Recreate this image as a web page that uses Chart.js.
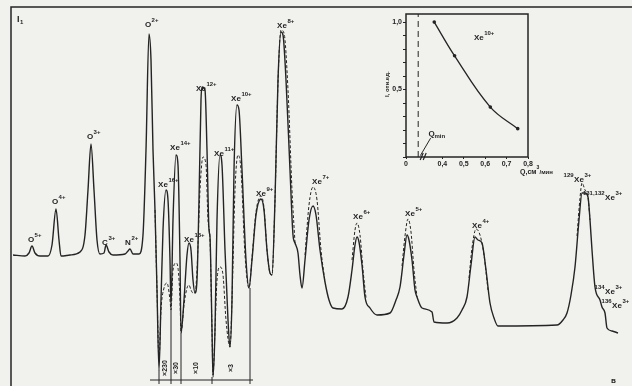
<!DOCTYPE html>
<html lang="ru">
<head>
  <meta charset="UTF-8" />
  <title>Масс-спектр ионов Xe</title>
  <script src="https://cdn.jsdelivr.net/npm/chart.js"></script>
  <style>
    html, body { margin: 0; padding: 0; background: #f1f1ee; }
    #wrap { position: relative; width: 632px; height: 386px; overflow: hidden; }
    #spectrum { position: absolute; left: 0; top: 0; }
    #inset { position: absolute; left: 380px; top: 0; }
  </style>
</head>
<body>
  <div id="wrap">
    <canvas id="spectrum" width="632" height="386"></canvas>
    <canvas id="inset" width="190" height="180"></canvas>
  </div>

  <script>
    // main trace (channel, intensity)
    const solidX = [13, 25, 29, 32, 35, 40, 48, 52, 56, 59, 61, 70, 80, 85, 88, 91, 94, 97, 100, 104,
      106, 109, 113, 125, 128, 130, 133, 139, 143, 146, 149, 151, 153, 155, 157, 159, 161, 163, 166, 168,
      170, 171, 173, 176, 178, 180, 181, 184, 187, 189, 191, 193, 195, 197, 199, 201, 202, 205, 207, 209,
      210, 212, 213, 215, 217, 220, 222, 225, 228, 230, 232, 234, 237, 239, 242, 246, 249, 252, 256, 261,
      264, 267, 270, 272, 275, 278, 281, 283, 286, 290, 293, 295, 298, 300, 302, 305, 309, 313, 316, 320,
      325, 329, 333, 342, 348, 352, 355, 357, 359, 362, 365, 370, 377, 390, 396, 400, 404, 407, 409, 412,
      415, 417, 422, 432, 434, 447, 457, 462, 467, 471, 475, 478, 482, 486, 490, 494, 498, 557, 563, 567,
      571, 575, 579, 582, 585, 588, 590, 592, 595, 600, 602, 605, 607, 612, 618];
    const solidY = [131, 130, 133, 140, 133, 130, 130, 141, 177, 146, 130, 131, 134, 151, 196, 242, 196, 146, 132, 133,
      141, 134, 131, 132, 135, 137, 132, 132, 151, 236, 352, 326, 236, 176, 96, 16, 86, 156, 196, 186,
      126, 79, 166, 231, 221, 126, 53, 86, 131, 143, 136, 106, 93, 106, 186, 286, 299, 296, 236, 156,
      149, 56, 9, 56, 166, 231, 221, 136, 66, 39, 86, 216, 281, 276, 216, 126, 98, 126, 171, 187,
      176, 136, 113, 111, 186, 306, 354, 351, 306, 216, 151, 143, 133, 111, 98, 126, 166, 180, 171, 136,
      104, 86, 78, 77, 89, 116, 141, 149, 144, 121, 89, 78, 71, 73, 86, 99, 131, 151, 146, 126,
      96, 89, 78, 74, 64, 63, 68, 76, 89, 121, 149, 146, 143, 116, 83, 68, 60, 61, 66, 73,
      91, 119, 166, 193, 193, 189, 166, 136, 99, 86, 79, 73, 58, 55, 53];

    // second trace (dashed), null = no deviation from the main trace
    const dashX = [155, 157, 159, 161, 164, 167, 170, 171, 173, 176, 178, 180, 181, 184, 187, 189, 191, 193, 195, 197,
      200, 203, 206, 208, 210, 212, 213, 215, 217, 220, 223, 226, 230, 232, 235, 238, 241, 245, 249, 252,
      256, 261, 264, 267, 270, 272, 275, 278, 281, 284, 288, 292, 295, 300,
      305, 309, 313, 317, 321, 325, 330,
      352, 355, 357, 360, 363, 366, 370,
      402, 405, 408, 411, 414, 417, 420,
      469, 472, 476, 480, 484, 488, 492,
      577, 580, 582, 585, 588, 590];
    const dashY = [176, 96, 26, 76, 98, 103, 86, 76, 116, 123, 118, 86, 53, 81, 98, 101, 96, 93, 93, 116,
      196, 229, 221, 166, 146, 56, 11, 56, 106, 119, 111, 66, 39, 86, 196, 231, 216, 131, 98, 128,
      174, 190, 178, 136, 113, 111, 186, 304, 356, 353, 296, 196, 143, null,
      131, 181, 199, 186, 136, 104, null,
      126, 156, 163, 151, 116, 88, null,
      120, 150, 167, 154, 116, 89, null,
      108, 138, 157, 151, 131, 96, null,
      150, 188, 203, 196, 189, 166];

    // sensitivity switch points and their gains
    const switchX = [159, 171, 181, 212, 250];
    const switchTop = [16, 79, 53, 9, 98];
    const gainLabel = ['×230', '×30', '×10', '×3'];

    // peak assignments
    const ionPre = ['', '', '', '', '', '', '', '', '', '', '', '', '', '', '', '', '', '', '129', '131,132', '134', '136'];
    const ionBase = ['O', 'O', 'O', 'C', 'N', 'O', 'Xe', 'Xe', 'Xe', 'Xe', 'Xe', 'Xe', 'Xe', 'Xe', 'Xe', 'Xe', 'Xe', 'Xe', 'Xe', 'Xe', 'Xe', 'Xe'];
    const ionSup = ['5+', '4+', '3+', '3+', '2+', '2+', '16+', '14+', '13+', '12+', '11+', '10+', '9+', '8+', '7+', '6+', '5+', '4+', '3+', '3+', '3+', '3+'];
    const ionX = [31, 55, 90, 105, 128, 148, 163, 175, 189, 201, 219, 236, 261, 282, 317, 358, 410, 477, 579, 610, 610, 617];
    const ionY = [144, 182, 247, 141, 141, 359, 199, 236, 144, 295, 230, 285, 190, 358, 202, 167, 170, 158, 204, 186, 92, 78];

    // inset: relative intensity of Xe10+ vs gas flow
    const flowQ = [0.362, 0.457, 0.624, 0.752];
    const relI = [1.0, 0.75, 0.37, 0.21];
    const qMin = 0.287;
    const flowTicks = [0.23, 0.4, 0.5, 0.6, 0.7, 0.8];
    const flowTickText = ['0', '0,4', '0,5', '0,6', '0,7', '0,8'];

    const INK = '#242424';
    const FONT = '"Liberation Sans", "DejaVu Sans", sans-serif';
    const toPoints = (xs, ys) => xs.map((x, i) => ({ x: x, y: ys[i] }));

    function ionLabel(ctx, x, y, pre, base, sup, size) {
      ctx.textAlign = 'left';
      ctx.textBaseline = 'alphabetic';
      ctx.font = 'bold ' + size + 'px ' + FONT;
      const bw = ctx.measureText(base).width;
      const left = x - bw / 2;
      ctx.fillText(base, left, y);
      ctx.font = 'bold ' + Math.round(size * 0.7) + 'px ' + FONT;
      if (sup) ctx.fillText(sup, left + bw + 0.5, y - size * 0.6);
      if (pre) ctx.fillText(pre, left - ctx.measureText(pre).width - 0.5, y - size * 0.6);
    }

    const spectrumDecor = {
      id: 'spectrumDecor',
      afterDatasetsDraw(chart) {
        const ctx = chart.ctx, sx = chart.scales.x, sy = chart.scales.y;
        ctx.save();
        ctx.strokeStyle = INK;
        ctx.fillStyle = INK;

        // frame
        ctx.lineWidth = 1.5;
        ctx.beginPath();
        ctx.moveTo(sx.getPixelForValue(11), sy.getPixelForValue(0));
        ctx.lineTo(sx.getPixelForValue(11), sy.getPixelForValue(379));
        ctx.lineTo(sx.getPixelForValue(632), sy.getPixelForValue(379));
        ctx.stroke();

        // sensitivity switch lines
        ctx.lineWidth = 1;
        ctx.beginPath();
        switchX.forEach((x, i) => {
          ctx.moveTo(sx.getPixelForValue(x), sy.getPixelForValue(switchTop[i]));
          ctx.lineTo(sx.getPixelForValue(x), sy.getPixelForValue(2));
        });
        ctx.moveTo(sx.getPixelForValue(150), sy.getPixelForValue(6));
        ctx.lineTo(sx.getPixelForValue(253), sy.getPixelForValue(6));
        ctx.stroke();

        ctx.font = 'bold 7px ' + FONT;
        ctx.textAlign = 'center';
        ctx.textBaseline = 'middle';
        gainLabel.forEach((t, i) => {
          const cx = (sx.getPixelForValue(switchX[i]) + sx.getPixelForValue(switchX[i + 1])) / 2;
          ctx.save();
          ctx.translate(cx, sy.getPixelForValue(18));
          ctx.rotate(-Math.PI / 2);
          ctx.fillText(t, 0, 0);
          ctx.restore();
        });

        // peak labels
        ionBase.forEach((b, i) => {
          ionLabel(ctx, sx.getPixelForValue(ionX[i]), sy.getPixelForValue(ionY[i]), ionPre[i], b, ionSup[i], 8);
        });

        // axis letter and figure letter
        ctx.font = 'bold 9px ' + FONT;
        ctx.textAlign = 'left';
        ctx.textBaseline = 'alphabetic';
        ctx.fillText('I', sx.getPixelForValue(17), sy.getPixelForValue(364));
        ctx.font = 'bold 6px ' + FONT;
        ctx.fillText('1', sx.getPixelForValue(20), sy.getPixelForValue(362));
        ctx.font = 'bold 8px ' + FONT;
        ctx.fillText('в', sx.getPixelForValue(611), sy.getPixelForValue(3));
        ctx.restore();
      }
    };

    new Chart(document.getElementById('spectrum'), {
      type: 'scatter',
      data: {
        datasets: [
          {
            data: toPoints(solidX, solidY),
            showLine: true,
            borderColor: INK,
            borderWidth: 1.4,
            pointRadius: 0,
            cubicInterpolationMode: 'monotone'
          },
          {
            data: toPoints(dashX, dashY),
            showLine: true,
            spanGaps: false,
            borderColor: INK,
            borderWidth: 1,
            borderDash: [3, 2],
            pointRadius: 0,
            cubicInterpolationMode: 'monotone'
          }
        ]
      },
      options: {
        responsive: false,
        animation: false,
        layout: { padding: 0 },
        plugins: { legend: { display: false }, tooltip: { enabled: false } },
        scales: {
          x: { type: 'linear', min: 0, max: 632, display: false },
          y: { type: 'linear', min: 0, max: 386, display: false }
        }
      },
      plugins: [spectrumDecor]
    });

    const insetDecor = {
      id: 'insetDecor',
      afterDraw(chart) {
        const ctx = chart.ctx, a = chart.chartArea, sx = chart.scales.x, sy = chart.scales.y;
        ctx.save();
        ctx.strokeStyle = INK;
        ctx.fillStyle = INK;
        ctx.lineWidth = 1.5;
        ctx.strokeRect(a.left, a.top, a.right - a.left, a.bottom - a.top);

        // axis break
        ctx.lineWidth = 1.2;
        const bx = sx.getPixelForValue(0.315), by = a.bottom;
        ctx.beginPath();
        ctx.moveTo(bx - 4, by + 3); ctx.lineTo(bx - 1, by - 4);
        ctx.moveTo(bx - 1, by + 3); ctx.lineTo(bx + 2, by - 4);
        ctx.stroke();

        // Qmin leader
        ctx.lineWidth = 1;
        ctx.beginPath();
        ctx.moveTo(sx.getPixelForValue(qMin + 0.01), sy.getPixelForValue(0.01));
        ctx.lineTo(sx.getPixelForValue(0.345), sy.getPixelForValue(0.14));
        ctx.stroke();
        ctx.font = 'bold 8px ' + FONT;
        ctx.textAlign = 'left';
        ctx.fillText('Q', sx.getPixelForValue(0.335), sy.getPixelForValue(0.155));
        ctx.font = 'bold 6px ' + FONT;
        ctx.fillText('min', sx.getPixelForValue(0.335) + 6, sy.getPixelForValue(0.14));

        ionLabel(ctx, sx.getPixelForValue(0.57), sy.getPixelForValue(0.87), '', 'Xe', '10+', 8);

        // axis titles
        ctx.font = 'bold 6px ' + FONT;
        ctx.save();
        ctx.translate(7, sy.getPixelForValue(0.54));
        ctx.rotate(-Math.PI / 2);
        ctx.textAlign = 'center';
        ctx.textBaseline = 'middle';
        ctx.fillText('I, отн.ед.', 0, 0);
        ctx.restore();
        ctx.textAlign = 'left';
        ctx.font = 'bold 7px ' + FONT;
        ctx.fillText('Q,см', 140, 174);
        const w = ctx.measureText('Q,см').width;
        ctx.font = 'bold 5px ' + FONT;
        ctx.fillText('3', 140 + w, 169);
        ctx.font = 'bold 6px ' + FONT;
        ctx.fillText('/мин', 143 + w, 174);
        ctx.restore();
      }
    };

    new Chart(document.getElementById('inset'), {
      type: 'scatter',
      data: {
        datasets: [
          {
            data: toPoints(flowQ, relI),
            showLine: true,
            tension: 0.4,
            borderColor: INK,
            borderWidth: 1.3,
            pointRadius: 1.8,
            pointBackgroundColor: INK,
            pointBorderWidth: 0
          },
          {
            data: [{ x: qMin, y: 0 }, { x: qMin, y: 1.06 }],
            showLine: true,
            borderColor: INK,
            borderWidth: 1,
            borderDash: [6, 4],
            pointRadius: 0
          }
        ]
      },
      options: {
        responsive: false,
        animation: false,
        layout: { padding: { left: 0, top: 14, right: 42, bottom: 0 } },
        plugins: { legend: { display: false }, tooltip: { enabled: false } },
        scales: {
          x: {
            type: 'linear', min: 0.23, max: 0.8,
            afterFit(s) { s.height = 23; },
            afterBuildTicks(s) { s.ticks = flowTicks.map(v => ({ value: v })); },
            ticks: {
              autoSkip: false, maxRotation: 0, padding: 1, color: INK,
              font: { family: FONT, size: 7, weight: 'bold' },
              callback: (v, i) => flowTickText[i]
            },
            grid: { drawOnChartArea: false, tickLength: 2, color: INK },
            border: { display: false }
          },
          y: {
            type: 'linear', min: 0, max: 1.06,
            afterFit(s) { s.width = 26; },
            afterBuildTicks(s) {
              const t = [];
              for (let i = 0; i <= 10; i++) t.push({ value: i / 10 });
              s.ticks = t;
            },
            ticks: {
              autoSkip: false, padding: 1, color: INK,
              font: { family: FONT, size: 7, weight: 'bold' },
              callback: v => (Math.round(v * 10) === 5 ? '0,5' : Math.round(v * 10) === 10 ? '1,0' : '')
            },
            grid: { drawOnChartArea: false, tickLength: 3, color: INK },
            border: { display: false }
          }
        }
      },
      plugins: [insetDecor]
    });
  </script>
</body>
</html>
